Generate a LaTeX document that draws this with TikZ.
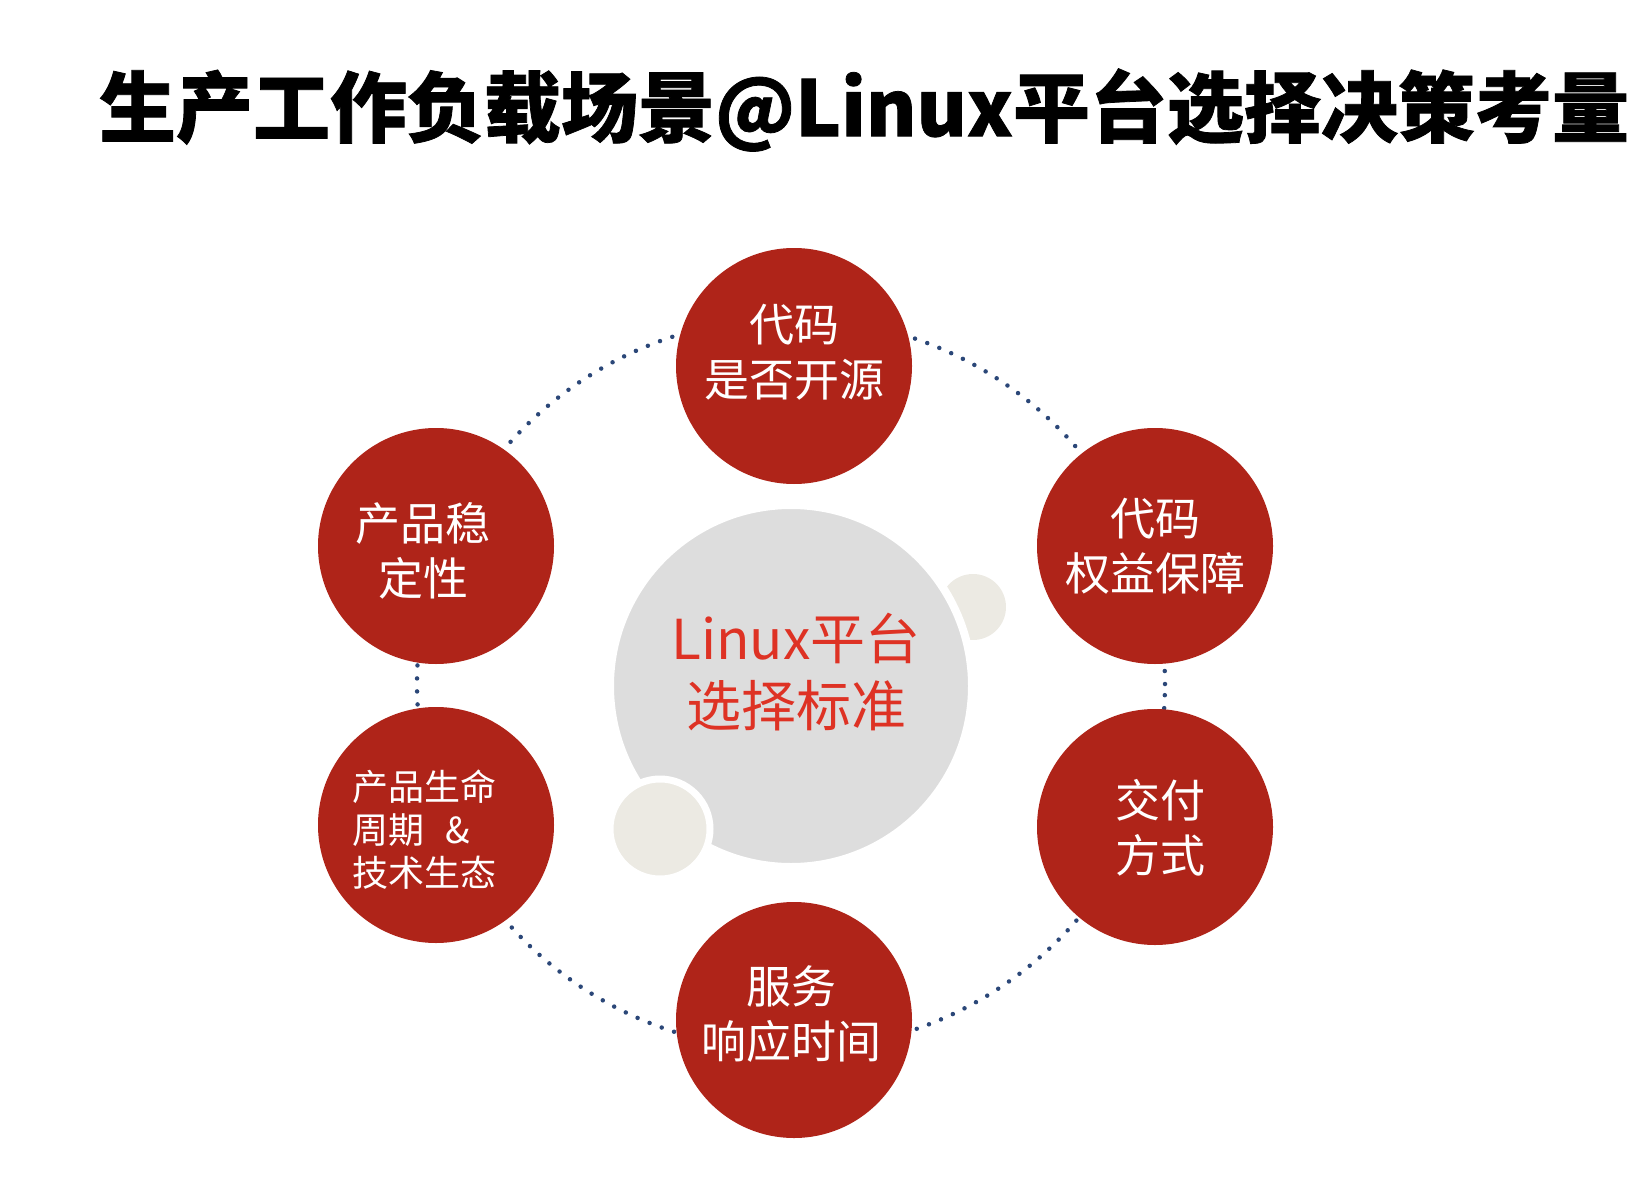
\documentclass[tikz,border=0pt]{standalone}
\usepackage{fontspec}
\setmainfont{Noto Sans CJK SC}
\usetikzlibrary{positioning}
\definecolor{factorred}{HTML}{AF2419}
\definecolor{hubgray}{HTML}{DDDDDD}
\definecolor{hubred}{HTML}{DE3224}
\definecolor{bubblebeige}{HTML}{ECEAE3}
\definecolor{ringblue}{HTML}{2B4778}

\begin{document}
\begin{tikzpicture}[x=1pt,y=-1pt]
\tikzset{factor/.style = {shape=circle,fill=factorred,minimum size=236pt,inner sep=0pt}}
\tikzset{factortext/.style = {text=white,align=center,inner sep=0pt,font=\fontsize{45}{55}\selectfont}}
\tikzset{hub/.style = {shape=circle,fill=hubgray,draw=white,line width=8pt,minimum size=362pt,inner sep=0pt}}
\tikzset{bubble/.style = {shape=circle,fill=bubblebeige,inner sep=0pt}}
\tikzset{ring/.style = {draw=ringblue,line width=4.5pt,line cap=round,dash pattern=on 0pt off 13pt}}
\useasboundingbox (0,0) rectangle (1650,1204);
\node[font=\fontsize{77}{80}\selectfont\bfseries\addfontfeatures{FakeBold=1}](title) at (864,110) {生产工作负载场景@Linux平台选择决策考量};
% dotted ring behind the factors
\coordinate (c) at (791,684);
\draw[ring] (c) ellipse [x radius=374pt, y radius=366pt];
% centre
\node[bubble,minimum size=66pt](bubbleR) at (973,607) {};
\node[hub](hub) at (791,686) {};
\node[bubble,draw=white,line width=7pt,minimum size=100pt](bubbleL) at (660,829) {};
\node[text=hubred,align=center,font=\fontsize{55}{67}\selectfont](hubtext) at (796,672) {Linux平台\\选择标准};
% factors
\node[factor](open) at (794,366) {};
\node[factor](stable) at (436,546) {};
\node[factor](life) at (436,825) {};
\node[factor](rights) at (1155,546) {};
\node[factor](delivery) at (1155,827) {};
\node[factor](response) at (794,1020) {};
\node[factortext](opentext) at (794,352) {代码\\是否开源};
\node[factortext](stabletext) at (423,551) {产品稳\\定性};
\node[factortext,align=left,font=\fontsize{36}{43}\selectfont](lifetext) at (424,830) {产品生命\\周期\hspace{22pt}\&\\技术生态};
\node[factortext](rightstext) at (1155,546) {代码\\权益保障};
\node[factortext](deliverytext) at (1160,828) {交付\\方式};
\node[factortext](responsetext) at (791,1014) {服务\\响应时间};
\end{tikzpicture}
\end{document}
